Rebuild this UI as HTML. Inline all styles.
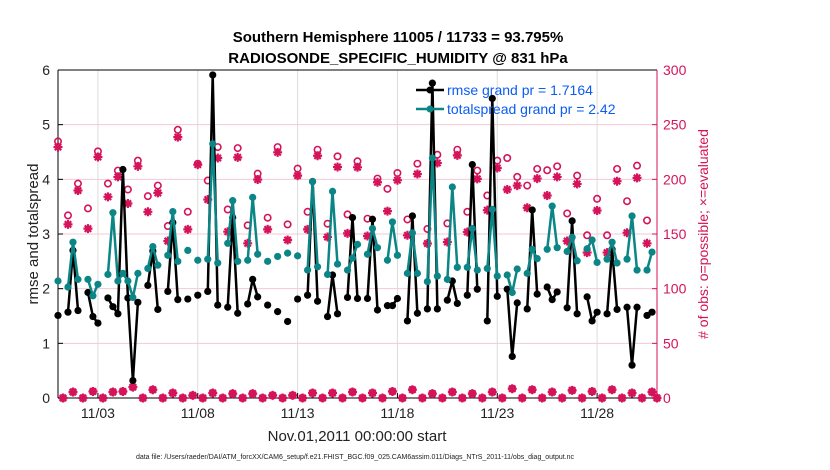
<!DOCTYPE html>
<html><head><meta charset="utf-8"><style>
html,body{margin:0;padding:0;background:#fff;}
svg{display:block;font-family:"Liberation Sans",sans-serif;}
</style></head><body>
<svg id="chart" width="830" height="470" viewBox="0 0 830 470">
<text x="398" y="42" text-anchor="middle" font-size="15" font-weight="bold">Southern Hemisphere 11005 / 11733 = 93.795%</text>
<text x="398" y="63" text-anchor="middle" font-size="15" font-weight="bold">RADIOSONDE_SPECIFIC_HUMIDITY @ 831 hPa</text>
<g id="grid"></g>
<g id="axes"></g>
<g id="marks"></g>
<text transform="translate(38,234) rotate(-90)" text-anchor="middle" font-size="15" fill="#222">rmse and totalspread</text>
<text transform="translate(708,234) rotate(-90)" text-anchor="middle" font-size="14" fill="#d5135a"># of obs: o=possible; ×=evaluated</text>
<text x="357" y="441" text-anchor="middle" font-size="15" fill="#222">Nov.01,2011 00:00:00 start</text>
<text x="355" y="459" text-anchor="middle" font-size="7" fill="#222">data file: /Users/raeder/DAI/ATM_forcXX/CAM6_setup/f.e21.FHIST_BGC.f09_025.CAM6assim.011/Diags_NTrS_2011-11/obs_diag_output.nc</text>
<g>
<line x1="416" y1="90" x2="444" y2="90" stroke="#000" stroke-width="2.5"/><circle cx="430" cy="90" r="3.5" fill="#000"/>
<text x="447" y="95" font-size="14" fill="#0a5cf5">rmse grand pr = 1.7164</text>
<line x1="416" y1="109" x2="444" y2="109" stroke="#0b8585" stroke-width="2.5"/><circle cx="430" cy="109" r="3.5" fill="#0b8585"/>
<text x="447" y="114" font-size="14" fill="#0a5cf5">totalspread grand pr = 2.42</text>
</g>
</svg>
<script>
const rmse=[1.51,null,1.57,2.70,1.60,null,1.93,1.49,1.37,null,1.83,1.67,1.54,4.18,1.83,0.32,1.75,null,2.06,2.69,1.62,null,1.95,3.21,1.80,null,1.81,null,1.88,null,1.95,5.91,1.70,null,1.66,3.30,1.55,null,1.72,2.17,1.85,null,1.70,null,1.58,null,1.40,null,1.81,null,1.88,3.96,1.77,null,1.49,2.25,1.54,null,1.84,3.30,1.82,null,1.82,3.27,1.61,null,1.69,1.69,1.82,null,1.41,3.33,1.55,null,1.63,5.76,1.63,null,1.79,2.14,1.73,null,1.88,4.27,1.99,null,1.41,5.48,1.86,null,1.99,0.76,1.74,null,1.63,3.44,1.90,null,2.03,1.80,1.94,null,1.65,3.24,1.54,null,1.85,1.41,1.57,null,1.54,2.72,1.62,null,1.66,0.60,1.66,null,1.51,1.57,null];
const spread=[2.14,null,2.03,2.85,2.17,null,2.17,1.87,2.08,null,2.26,3.39,2.14,2.28,2.14,1.84,2.28,null,2.37,2.77,2.43,null,2.61,3.41,2.50,null,2.70,null,2.52,null,2.54,4.65,2.47,null,2.83,3.61,2.50,null,2.52,3.67,2.63,null,2.50,null,2.59,null,2.65,null,2.60,null,2.34,3.96,2.40,null,2.26,3.78,2.45,null,2.34,2.56,2.81,null,2.63,3.10,2.75,null,2.52,3.22,2.61,null,2.28,3.02,2.28,null,2.13,4.39,2.23,null,2.17,3.86,2.39,null,2.39,3.10,2.34,null,2.37,3.45,2.23,null,2.25,1.93,2.36,null,2.28,2.72,2.55,null,2.72,3.51,2.75,null,2.68,2.94,2.51,null,2.73,2.89,2.48,null,2.54,2.85,2.47,null,2.54,3.33,2.34,null,2.34,2.67,null];
const possibleEven=[234.7,167.0,196.1,173.4,225.6,196.1,208.0,190.7,217.1,184.6,194.3,157.3,245.3,170.3,214.3,198.9,229.5,172.4,228.6,157.9,205.2,164.9,229.5,158.8,209.8,170.3,227.1,159.4,221.0,167.9,216.5,164.0,200.7,191.3,205.8,163.3,214.3,154.6,222.5,159.7,227.1,170.3,208.0,185.2,217.1,219.5,202.2,194.3,209.5,208.3,211.9,168.8,203.4,148.8,182.2,148.8,209.5,180.0,212.5,162.4,0];
const evaluatedEven=[229.5,158.8,189.8,154.9,220.4,184.0,202.2,177.9,211.9,170.3,187.6,143.6,238.6,154.2,213.4,181.5,219.5,152.1,220.1,141.5,199.8,154.2,224.7,144.5,203.4,154.2,221.6,147.2,211.3,150.6,211.0,148.2,197.3,170.9,199.2,148.8,204.9,141.3,214.9,142.7,221.9,151.8,200.4,171.8,210.4,190.7,194.3,174.0,200.7,185.2,202.2,143.6,195.8,133.0,171.5,133.0,198.3,151.2,201.3,141.5,0];
const obsOdd=[0,5.5,0,6,0,5.5,6,10,0,7.6,0,4.6,0,2.4,0,4.6,0,4,0,4,0,2.4,0,2.4,0,4.6,0,4.6,0,5.5,0,4.6,0,6,0,7.6,0,4,0,5.5,0,4,0,5.5,0,8.5,0,7.6,0,5.5,0,7,0,6,0,7.6,0,4.6,0,5.5];
const yTicks=[0,1,2,3,4,5,6];
const rTicks=[0,50,100,150,200,250,300];
const xTickDays=[2,7,12,17,22,27];
const xTickLabels=["11/03","11/08","11/13","11/18","11/23","11/28"];

const X0=58,X1=657,Y0=398,Y1=70;
const x=d=>X0+(d/30)*(X1-X0);
const xk=k=>x(k/4);
const yL=v=>Y0-(v/6)*(Y0-Y1);
const yR=v=>Y0-(v/300)*(Y0-Y1);
const NS='http://www.w3.org/2000/svg';
function mk(tag,attrs,parent){const e=document.createElementNS(NS,tag);for(const a in attrs)e.setAttribute(a,attrs[a]);parent.appendChild(e);return e;}
const grid=document.getElementById('grid'),axes=document.getElementById('axes'),marks=document.getElementById('marks');
const RED='#d5135a';
xTickDays.forEach((d,i)=>{
  const l=mk('line',{x1:x(d),x2:x(d),y1:Y1,y2:Y0,stroke:'#dcdcdc','stroke-width':1},grid);
  
  
  const t=mk('line',{x1:x(d),x2:x(d),y1:Y0,y2:Y0-5,stroke:'#000'},axes);
  const tx=mk('text',{x:x(d),y:418,'text-anchor':'middle','font-size':14,fill:'#222'},axes);
  tx.textContent=xTickLabels[i];
  
  
});
yTicks.forEach(v=>{
  if(v>0&&v<6){const g=mk('line',{x1:X0,x2:X1,y1:yL(v),y2:yL(v),stroke:'#f3c9d8','stroke-width':1},grid);
  
  }
  mk('line',{x1:X0,x2:X0+5,y1:yL(v),y2:yL(v),stroke:'#000'},axes);
  const t=mk('text',{x:X0-8,y:yL(v)+5,'text-anchor':'end','font-size':14,fill:'#222'},axes);
  t.textContent=v;
  
  
});
rTicks.forEach(v=>{
  mk('line',{x1:X1-5,x2:X1,y1:yR(v),y2:yR(v),stroke:RED},axes);
  const t=mk('text',{x:X1+6,y:yR(v)+5,'font-size':14,fill:RED},axes);
  t.textContent=v;
  
  
});
mk('line',{x1:X0,x2:X1,y1:Y1,y2:Y1,stroke:'#000'},axes);
mk('line',{x1:X0,x2:X1,y1:Y0,y2:Y0,stroke:'#000'},axes);
mk('line',{x1:X0,x2:X0,y1:Y1,y2:Y0,stroke:'#000'},axes);
mk('line',{x1:X1,x2:X1,y1:Y1,y2:Y0,stroke:RED},axes);

function star(cx,cy,parent){
  const s=4.5,d=3.2;
  const p=mk('path',{d:`M${cx-s},${cy}H${cx+s}M${cx},${cy-s}V${cy+s}M${cx-d},${cy-d}L${cx+d},${cy+d}M${cx-d},${cy+d}L${cx+d},${cy-d}`,stroke:RED,'stroke-width':2.2,fill:'none'},parent);
  
  
}
function circ(cx,cy,parent){
  const c=mk('circle',{cx:cx,cy:cy,r:3.2,fill:'none',stroke:RED,'stroke-width':1.6},parent);
  
  
}
// obs counts
possibleEven.forEach((v,i)=>{circ(xk(2*i),yR(v),marks);});
evaluatedEven.forEach((v,i)=>{star(xk(2*i),yR(v),marks);});
obsOdd.forEach((v,i)=>{circ(xk(2*i+1),yR(v),marks);star(xk(2*i+1),yR(v),marks);});

function series(arr,color,name){
  let d='';let prev=false;
  arr.forEach((v,k)=>{if(v===null){prev=false;return;}d+=(prev?'L':'M')+xk(k).toFixed(1)+','+yL(v).toFixed(1);prev=true;});
  const p=mk('path',{d:d,stroke:color,'stroke-width':2.5,fill:'none','stroke-linejoin':'round'},marks);
  
  
  arr.forEach((v,k)=>{if(v===null)return;
    const c=mk('circle',{cx:xk(k),cy:yL(v),r:3.6,fill:color},marks);
    
    
  });
}
series(rmse,'#000','rmse');
series(spread,'#0b8585','totalspread');
</script>
</body></html>
